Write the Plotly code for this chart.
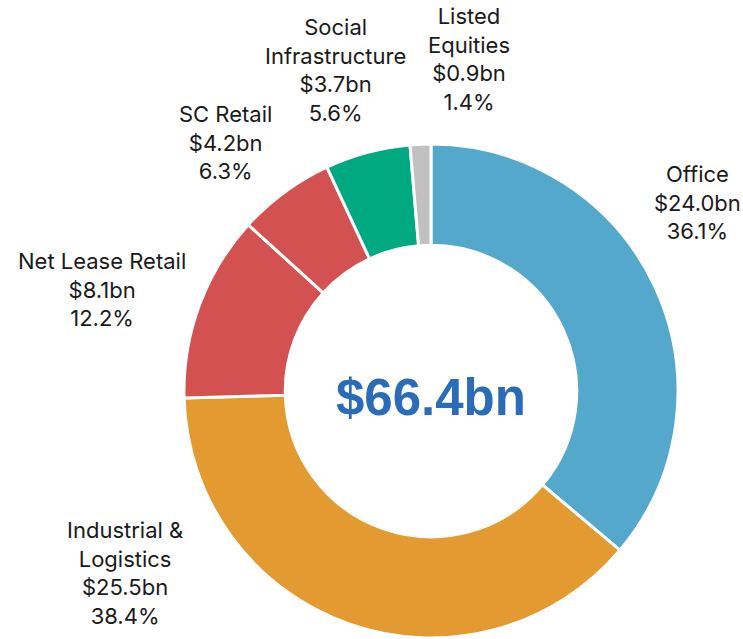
import plotly.graph_objects as go

# ---- data ----
categories = ["Office", "Industrial &<br>Logistics", "Net Lease Retail", "SC Retail",
              "Social<br>Infrastructure", "Listed<br>Equities"]
values_bn = [24.0, 25.5, 8.1, 4.2, 3.7, 0.9]
pct_labels = ["36.1%", "38.4%", "12.2%", "6.3%", "5.6%", "1.4%"]
total_label = "$66.4bn"

# ---- styling ----
colors = ["#53a8cb", "#e39b31", "#d35151", "#d35151", "#00a980", "#c1c1c1"]
W, H = 743, 639
cx, cy, R = 431, 391, 247
# label anchor positions (pixels) for the text annotations
label_pos = [(697, 202), (125, 573), (102, 289), (225, 142), (335, 70), (469, 59)]

fig = go.Figure()
fig.add_trace(go.Pie(
    labels=categories,
    values=values_bn,
    hole=0.59,
    sort=False,
    direction="clockwise",
    rotation=0,
    marker=dict(colors=colors, line=dict(color="white", width=3)),
    textinfo="none",
    hoverinfo="label+value+percent",
    showlegend=False,
    domain=dict(x=[(cx - R) / W, (cx + R) / W],
                y=[(H - cy - R) / H, (H - cy + R) / H]),
))

for cat, v, p, (px, py) in zip(categories, values_bn, pct_labels, label_pos):
    fig.add_annotation(
        x=px / W, y=1 - py / H, xref="paper", yref="paper",
        text=f"{cat}<br>${v:.1f}bn<br>{p}",
        showarrow=False, xanchor="center", yanchor="middle", align="center",
        font=dict(family="Inter, Roboto, sans-serif", size=22, color="#1a1a1a"),
    )

fig.add_annotation(
    x=cx / W, y=1 - 397 / H, xref="paper", yref="paper",
    text=f"<b>{total_label}</b>", showarrow=False,
    xanchor="center", yanchor="middle",
    font=dict(family="Liberation Sans, Arial, sans-serif", size=51, color="#2b6cb8"),
)

fig.update_layout(
    width=W, height=H,
    margin=dict(l=0, r=0, t=0, b=0),
    paper_bgcolor="white", plot_bgcolor="white",
)

fig.write_html("out.html",
               config={"displayModeBar": False},
               post_script="document.body.style.margin='0';document.body.style.padding='0';")
